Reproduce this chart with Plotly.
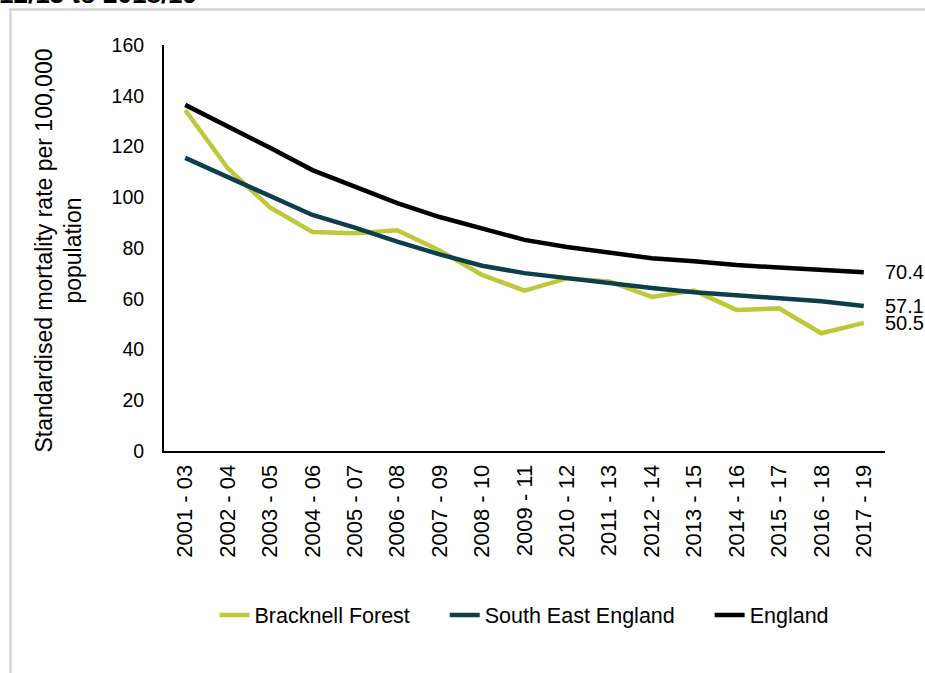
import plotly.graph_objects as go

periods = ["2001 - 03", "2002 - 04", "2003 - 05", "2004 - 06", "2005 - 07", "2006 - 08",
           "2007 - 09", "2008 - 10", "2009 - 11", "2010 - 12", "2011 - 13", "2012 - 14",
           "2013 - 15", "2014 - 16", "2015 - 17", "2016 - 18", "2017 - 19"]

bracknell = [134.4, 111.5, 96.0, 86.3, 85.8, 87.0, 79.0, 69.4, 63.2, 68.0, 66.8, 60.7,
             63.2, 55.6, 56.2, 46.4, 50.5]
south_east = [115.5, 108.0, 100.5, 93.0, 88.0, 82.5, 77.5, 73.0, 70.1, 68.0, 66.2, 64.2,
              62.6, 61.5, 60.0, 59.0, 57.1]
england = [136.4, 128.0, 119.5, 110.7, 104.0, 97.7, 92.2, 87.5, 83.2, 80.4, 78.2, 76.0,
           74.8, 73.3, 72.3, 71.4, 70.4]

series_names = ["Bracknell Forest", "South East England", "England"]
series_colors = ["#BDC93B", "#0C3E4B", "#000000"]
series_values = [bracknell, south_east, england]

y_ticks = [0, 20, 40, 60, 80, 100, 120, 140, 160]

FONT = "Arial, Liberation Sans, sans-serif"
PAD = "\u00a0" * 5

fig = go.Figure()
for i, (name, color, vals) in enumerate(zip(series_names, series_colors, series_values)):
    fig.add_trace(go.Scatter(
        x=periods, y=vals, name=name + (PAD if i < len(series_names) - 1 else ""),
        mode="lines", line=dict(color=color, width=4.5),
    ))

annotations = []
for vals in series_values:
    annotations.append(dict(
        x=periods[-1], y=vals[-1], xref="x", yref="y",
        text=f"{vals[-1]:.1f}", showarrow=False, xanchor="left", yanchor="middle",
        xshift=19, font=dict(family=FONT, size=20, color="#000000"),
    ))

# y-axis title
annotations.append(dict(
    x=-0.1463, y=0.4926, xref="paper", yref="paper",
    text="Standardised mortality rate per 100,000<br>population",
    textangle=-90, showarrow=False, xanchor="center", yanchor="middle",
    font=dict(family=FONT, size=23, color="#000000"),
))

# clipped title from the page above
annotations.append(dict(
    x=-0.232, y=1, xref="paper", yref="paper",
    text="<b>12/13 to 2018/19</b>", showarrow=False, xanchor="left", yanchor="bottom",
    yshift=34, font=dict(family=FONT, size=26, color="#000000"),
))

fig.update_layout(
    width=925, height=673,
    margin=dict(l=164, r=40, t=45, b=222),
    paper_bgcolor="white", plot_bgcolor="white",
    font=dict(family=FONT, size=20, color="#000000"),
    showlegend=True,
    legend=dict(
        orientation="h", x=0.5, xanchor="center", y=-0.404, yanchor="middle",
        font=dict(family=FONT, size=21.5, color="#000000"),
    ),
    annotations=annotations,
    shapes=[dict(
        type="rect", xref="paper", yref="paper",
        x0=(10.5 - 164) / 721, x1=(935 - 164) / 721,
        y0=(451 - 690) / 406, y1=(451 - 9.5) / 406,
        line=dict(color="#D6D6D6", width=2.5), fillcolor="rgba(0,0,0,0)", layer="below",
    )],
)

fig.update_xaxes(
    type="category", range=[-0.5, len(periods) - 0.5],
    showline=True, linecolor="#000000", linewidth=2,
    showgrid=False, zeroline=False, ticks="",
    tickangle=-90, tickfont=dict(family=FONT, size=22),
    ticklabelstandoff=3,
)
fig.update_yaxes(
    range=[0, 160], tickvals=y_ticks,
    showline=True, linecolor="#000000", linewidth=2,
    showgrid=False, zeroline=False, ticks="",
    tickfont=dict(family=FONT, size=19.5),
    ticklabelstandoff=14,
)

fig.write_html("out.html")
